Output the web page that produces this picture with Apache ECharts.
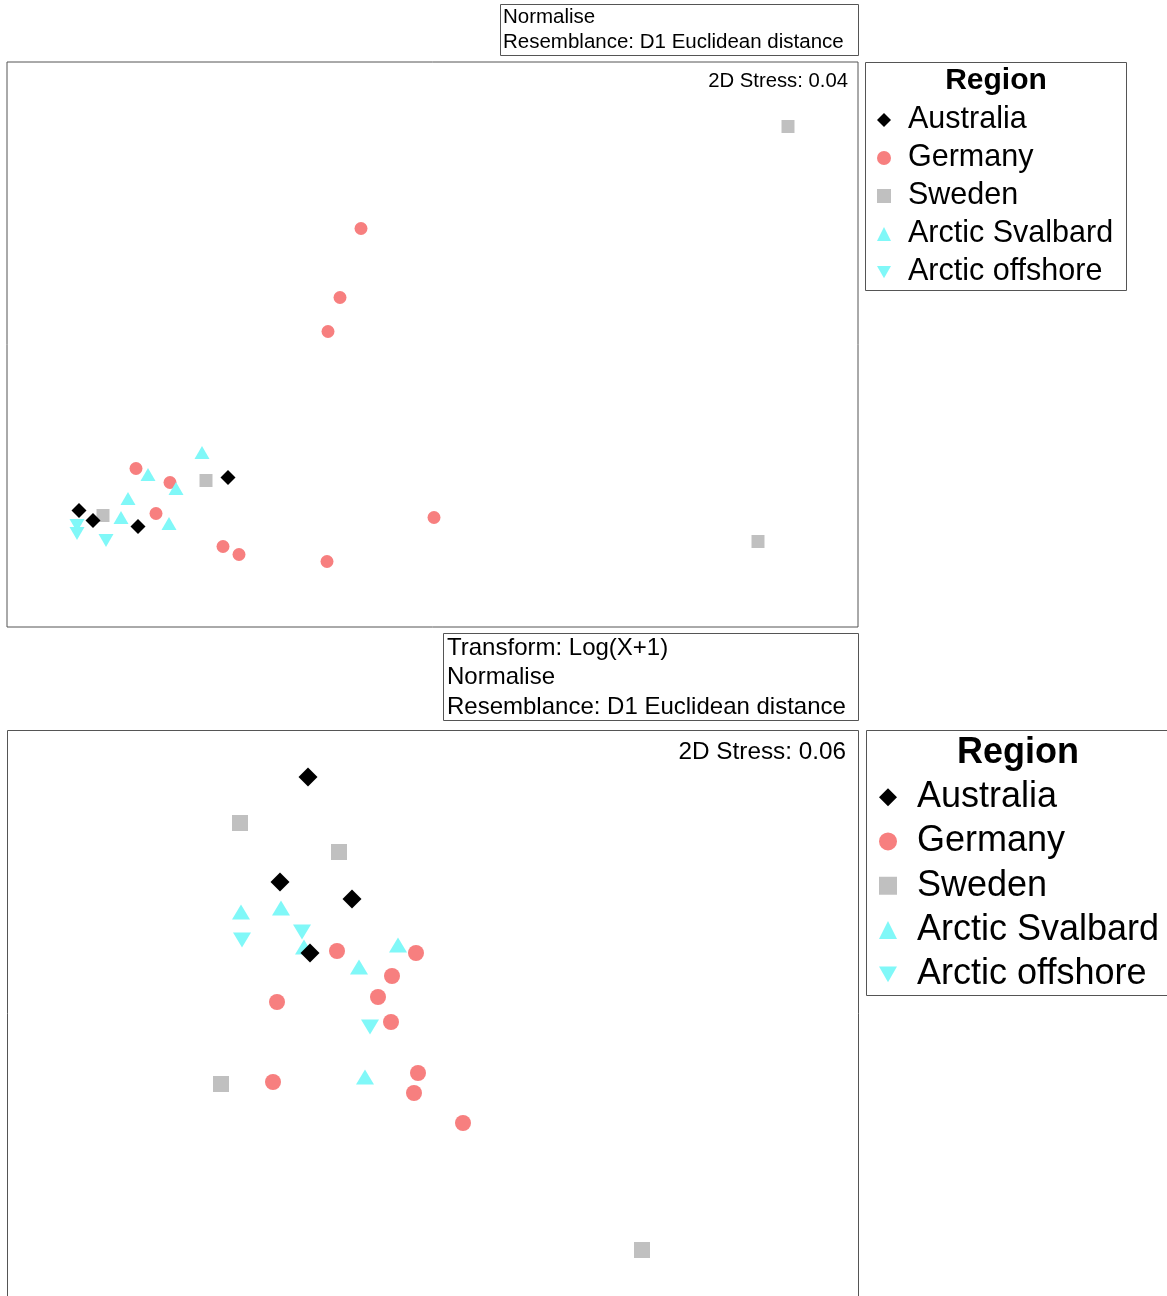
<!DOCTYPE html>
<html><head><meta charset="utf-8">
<script src="https://cdn.jsdelivr.net/npm/echarts@6/dist/echarts.min.js"></script>
<style>html,body{margin:0;padding:0;background:#fff}#c{width:1167px;height:1296px}</style>
</head><body><div id="c"></div>
<script>
// ---- Data (nMDS coordinates, arbitrary units) ----
const regions = ['Australia', 'Germany', 'Sweden', 'Arctic Svalbard', 'Arctic offshore'];

// Top plot: Normalise, D1 Euclidean distance (2D Stress 0.04)
const topAustralia = [[-3.53,-1.66],[-3.39,-1.76],[-2.94,-1.82],[-2.04,-1.33]];
const topGermany = [[-2.96,-1.24],[-2.62,-1.38],[-2.76,-1.69],[-2.09,-2.02],[-1.93,-2.10],
                    [-0.71,1.16],[-0.92,0.47],[-1.04,0.13],[0.02,-1.73],[-1.05,-2.17]];
const topSweden = [[-2.26,-1.36],[-3.29,-1.71],[3.56,2.18],[3.26,-1.97]];
const topSvalbard = [[-2.30,-1.08],[-2.84,-1.30],[-2.56,-1.44],[-3.04,-1.54],[-3.11,-1.73],[-2.63,-1.79]];
const topOffshore = [[-3.55,-1.81],[-3.55,-1.89],[-3.26,-1.96]];

// Bottom plot: Log(X+1), Normalise, D1 Euclidean distance (2D Stress 0.06)
const botAustralia = [[-1.24,2.53],[-1.52,1.48],[-0.80,1.31],[-1.22,0.77]];
const botGermany = [[-0.95,0.79],[-0.16,0.77],[-0.40,0.54],[-0.54,0.33],[-1.55,0.28],
                    [-0.41,0.08],[-0.14,-0.43],[-0.18,-0.63],[-1.59,-0.52],[0.31,-0.93]];
const botSweden = [[-1.92,2.07],[-0.93,1.78],[-2.11,-0.54],[2.10,-2.20]];
const botSvalbard = [[-1.91,1.18],[-1.51,1.22],[-1.28,0.83],[-0.34,0.85],[-0.73,0.63],[-0.67,-0.47]];
const botOffshore = [[-1.90,0.90],[-1.30,0.98],[-0.62,0.03]];

const topNotes = ['Normalise', 'Resemblance: D1 Euclidean distance'];
const botNotes = ['Transform: Log(X+1)', 'Normalise', 'Resemblance: D1 Euclidean distance'];
const topStress = '2D Stress: 0.04';
const botStress = '2D Stress: 0.06';
const legendTitle = 'Region';

// ---- Styles ----
const FONT = "'Liberation Sans', Arial, sans-serif";
const colors = {
  'Australia': '#000000', 'Germany': '#F77F7F', 'Sweden': '#C0C0C0',
  'Arctic Svalbard': '#80F8F8', 'Arctic offshore': '#80F8F8'
};
const symbols = {
  'Australia': 'diamond', 'Germany': 'circle', 'Sweden': 'rect',
  'Arctic Svalbard': 'triangle', 'Arctic offshore': 'path://M0,0L2,0L1,1.75Z'
};
const sizesTop = {
  'Australia': 15, 'Germany': 13, 'Sweden': 13, 'Arctic Svalbard': [15,13], 'Arctic offshore': [15,13]
};
const sizesBot = {
  'Australia': 19, 'Germany': 16, 'Sweden': 16, 'Arctic Svalbard': [18,15], 'Arctic offshore': [18,15]
};
const topData = {
  'Australia': topAustralia, 'Germany': topGermany, 'Sweden': topSweden,
  'Arctic Svalbard': topSvalbard, 'Arctic offshore': topOffshore
};
const botData = {
  'Australia': botAustralia, 'Germany': botGermany, 'Sweden': botSweden,
  'Arctic Svalbard': botSvalbard, 'Arctic offshore': botOffshore
};
const drawOrder = ['Germany', 'Sweden', 'Arctic Svalbard', 'Arctic offshore', 'Australia'];

const series = [];
drawOrder.forEach(name => {
  series.push({
    name, type: 'scatter', xAxisIndex: 0, yAxisIndex: 0, data: topData[name],
    symbol: symbols[name], symbolSize: sizesTop[name],
    itemStyle: { color: colors[name], opacity: 1 }, silent: true
  });
  series.push({
    name, type: 'scatter', xAxisIndex: 1, yAxisIndex: 1, data: botData[name],
    symbol: symbols[name], symbolSize: sizesBot[name],
    itemStyle: { color: colors[name], opacity: 1 }, silent: true
  });
});

const BORDER = '#555555';

const option = {
  animation: false,
  backgroundColor: '#fff',
  grid: [
    { left: 7, top: 62, width: 851, height: 565, show: true, borderColor: BORDER, borderWidth: 1, backgroundColor: 'transparent' },
    { left: 7, top: 730, width: 851, height: 566, show: false }
  ],
  xAxis: [
    { type: 'value', gridIndex: 0, min: -4.25, max: 4.26, show: false },
    { type: 'value', gridIndex: 1, min: -4.25, max: 4.26, show: false }
  ],
  yAxis: [
    { type: 'value', gridIndex: 0, min: -2.825, max: 2.825, show: false },
    { type: 'value', gridIndex: 1, min: -2.66, max: 3.0, show: false }
  ],
  legend: [
    {
      data: regions, orient: 'vertical', left: 877, top: 101, padding: 0, itemGap: 0,
      itemWidth: 14, itemHeight: 14, selectedMode: false,
      textStyle: { fontFamily: FONT, fontSize: 30.5, color: '#000', lineHeight: 38, padding: [0,0,0,12] }
    },
    {
      data: regions, orient: 'vertical', left: 879, top: 775, padding: 0, itemGap: 0,
      itemWidth: 18, itemHeight: 18, selectedMode: false,
      textStyle: { fontFamily: FONT, fontSize: 36, color: '#000', lineHeight: 44.3, padding: [0,0,0,15] }
    }
  ],
  graphic: [
    // annotation boxes
    { type: 'rect', shape: { x: 500.5, y: 4.5, width: 358, height: 51 }, style: { fill: 'none', stroke: BORDER, lineWidth: 1 } },
    { type: 'rect', shape: { x: 443.5, y: 633.5, width: 415, height: 87 }, style: { fill: 'none', stroke: BORDER, lineWidth: 1 } },
    // bottom plot frame (continues past the page edge)
    { type: 'rect', shape: { x: 7.5, y: 730.5, width: 851, height: 620 }, style: { fill: 'none', stroke: BORDER, lineWidth: 1 } },
    // legend boxes
    { type: 'rect', shape: { x: 865.5, y: 62.5, width: 261, height: 228 }, style: { fill: 'none', stroke: BORDER, lineWidth: 1 } },
    { type: 'rect', shape: { x: 866.5, y: 730.5, width: 310, height: 265 }, style: { fill: 'none', stroke: BORDER, lineWidth: 1 } },
    // legend titles
    { type: 'text', x: 996, y: 81, style: { text: legendTitle, font: 'bold 30px ' + FONT, fill: '#000', textAlign: 'center', textVerticalAlign: 'middle' } },
    { type: 'text', x: 1018, y: 753, style: { text: legendTitle, font: 'bold 36px ' + FONT, fill: '#000', textAlign: 'center', textVerticalAlign: 'middle' } },
    // stress labels
    { type: 'text', x: 848, y: 81, style: { text: topStress, font: '20.3px ' + FONT, fill: '#000', textAlign: 'right', textVerticalAlign: 'middle' } },
    { type: 'text', x: 846, y: 752, style: { text: botStress, font: '24.3px ' + FONT, fill: '#000', textAlign: 'right', textVerticalAlign: 'middle' } },
  ].concat(
    topNotes.map((t, i) => ({ type: 'text', x: 503, y: 17 + i * 25, style: { text: t, font: '20.5px ' + FONT, fill: '#000', textVerticalAlign: 'middle' } })),
    botNotes.map((t, i) => ({ type: 'text', x: 447, y: 648 + i * 29.5, style: { text: t, font: '24px ' + FONT, fill: '#000', textVerticalAlign: 'middle' } }))
  ),
  series
};

const chart = echarts.init(document.getElementById('c'), null, { renderer: 'canvas' });
chart.setOption(option);
</script>
</body></html>
